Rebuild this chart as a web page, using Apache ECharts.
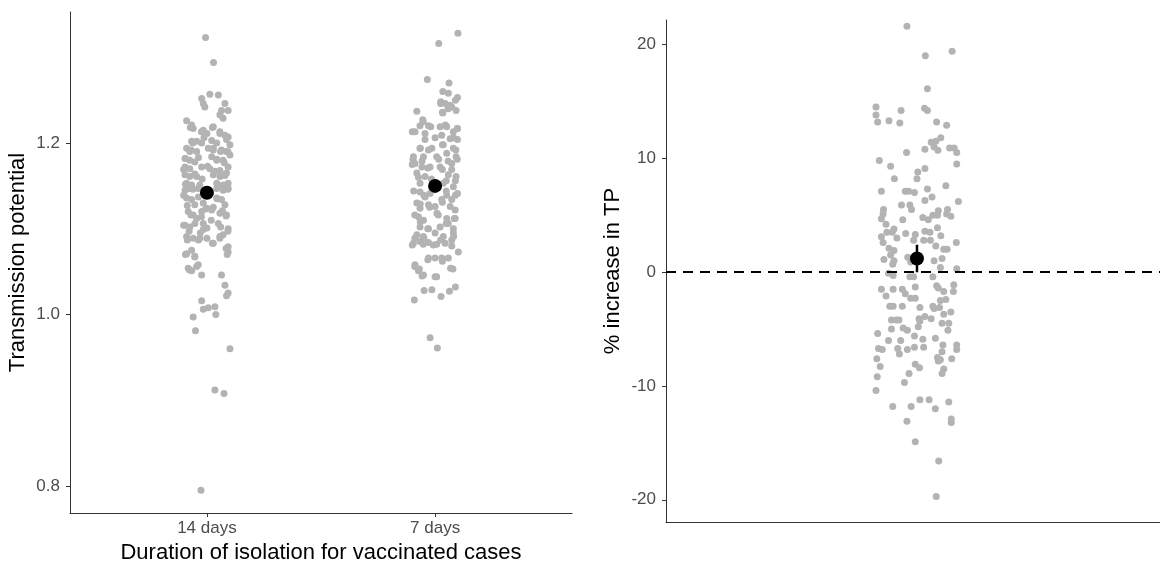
<!DOCTYPE html>
<html>
<head>
<meta charset="utf-8">
<script src="https://cdn.jsdelivr.net/npm/echarts@6/dist/echarts.min.js"></script>
<style>
  html, body { margin: 0; background: #fff; }
  #chart { width: 1160px; height: 564px; }
</style>
</head>
<body>
<div id="chart"></div>
<script>
const categories = ['14 days', '7 days'];

// each point: [transmission potential, horizontal jitter]
const tp14 = [
  [1.323,-0.006],[1.294,0.029],
  [1.252,-0.023],[1.246,-0.016],[1.242,-0.009],[1.257,0.013],[1.256,0.050],[1.246,0.079],[1.238,0.093],[1.238,0.064],
  [1.233,0.057],[1.229,0.071],[1.226,-0.089],[1.221,-0.067],[1.217,-0.060],[1.215,-0.016],[1.211,0.000],[1.219,0.028],
  [1.213,0.057],[1.209,0.079],[1.207,0.093],[1.202,-0.067],[1.202,-0.045],[1.200,-0.023],[1.203,0.021],[1.200,0.043],
  [1.198,0.101],[1.194,-0.089],[1.190,-0.075],[1.190,-0.045],[1.194,0.006],[1.192,0.028],[1.192,0.064],[1.190,0.086],
  [1.186,0.101],[1.182,-0.096],[1.180,-0.075],[1.178,-0.053],[1.184,0.021],[1.180,0.043],[1.180,0.071],[1.172,-0.096],
  [1.170,-0.075],[1.172,-0.023],[1.170,0.013],[1.168,0.057],[1.172,0.093],[1.163,-0.096],[1.161,-0.075],[1.161,-0.045],
  [1.163,0.028],[1.161,0.057],[1.165,0.086],[1.153,-0.089],[1.151,-0.067],[1.151,-0.031],[1.153,0.043],[1.151,0.071],
  [1.153,0.093],
  [1.145,-0.096],[1.147,-0.075],[1.147,-0.038],[1.147,0.043],[1.145,0.071],[1.147,0.093],[1.136,-0.089],[1.134,-0.067],
  [1.128,-0.053],[1.136,0.043],[1.134,0.064],[1.128,0.079],[1.130,-0.016],[1.124,0.000],[1.120,-0.023],[1.122,0.021],
  [1.120,-0.082],[1.116,-0.060],[1.112,-0.045],[1.118,0.057],[1.116,0.086],[1.104,-0.096],[1.102,-0.075],[1.106,-0.016],
  [1.099,-0.016],[1.101,0.000],[1.106,0.050],[1.100,0.093],[1.091,-0.089],[1.089,-0.060],[1.089,-0.031],[1.089,0.000],
  [1.083,0.028],[1.091,0.057],[1.093,0.071],[1.079,0.093],[1.073,0.093],[1.071,-0.089],[1.075,-0.067],[1.067,-0.053],
  [1.054,-0.082],[1.058,-0.038],[1.046,-0.023],[1.046,0.064],[1.034,0.079],[1.025,0.093],
  [1.051,-0.067],[1.022,0.086],[1.016,-0.023],[1.006,-0.016],[1.008,0.006],[1.009,0.035],[1.000,0.039],[0.997,-0.060],
  [0.981,-0.050],[0.960,0.101],[0.912,0.035],[0.908,0.075],[0.795,-0.026],
  [1.218,-0.073],[1.213,-0.024],[1.218,0.024],[1.211,0.057],[1.204,0.086],[1.200,-0.062],[1.206,-0.013],[1.194,0.028],
  [1.190,0.060],[1.190,0.092],[1.182,-0.094],[1.192,-0.070],[1.183,-0.037],[1.173,0.003],[1.181,0.044],[1.177,0.076],
  [1.169,-0.102],[1.164,-0.053],[1.158,-0.021],[1.167,0.036],[1.162,0.079],[1.152,-0.094],[1.146,-0.062],[1.150,0.060],
  [1.146,0.092],[1.139,-0.102],[1.137,-0.037],[1.135,0.044],[1.127,-0.086],[1.123,-0.005],[1.125,0.028],[1.121,0.068],
  [1.116,-0.070],[1.114,-0.024],[1.115,0.084],[1.104,-0.102],[1.106,-0.053],[1.110,0.019],[1.102,0.060],[1.097,-0.078],
  [1.095,-0.029],[1.097,0.092],[1.087,-0.086],[1.087,-0.037],[1.083,0.024],[1.089,0.057],[1.070,-0.094],[1.068,-0.053],
  [1.077,0.084],[1.070,0.089],[1.052,-0.076],[1.056,-0.045]
];

const tp7 = [
  [1.328,0.100],[1.316,0.016],[1.274,-0.034],[1.270,0.061],[1.260,0.034],[1.258,0.058],[1.253,0.098],[1.248,0.025],
  [1.246,0.044],[1.242,0.073],[1.238,0.092],[1.237,-0.080],[1.235,0.034],[1.227,-0.054],[1.220,-0.066],[1.220,-0.029],
  [1.219,0.022],[1.219,0.051],[1.217,0.098],[1.213,-0.088],[1.211,-0.044],[1.213,0.080],[1.209,0.029],[1.205,0.066],
  [1.204,0.098],[1.204,-0.044],[1.194,-0.066],[1.194,-0.014],[1.198,0.036],[1.194,0.080],[1.184,-0.095],[1.184,-0.051],
  [1.184,0.007],[1.188,0.051],[1.184,0.092],[1.176,-0.088],[1.172,-0.058],[1.172,-0.022],[1.172,0.022],[1.176,0.073],
  [1.165,-0.080],[1.161,-0.044],[1.163,0.058],[1.161,0.092],[1.153,-0.066],[1.153,0.036],[1.149,0.080],[1.141,0.098],
  [1.143,-0.066],[1.137,-0.044],[1.141,-0.022],[1.139,0.051],[1.134,0.029],[1.134,0.073],[1.130,-0.080],[1.124,-0.066],
  [1.128,-0.029],[1.126,0.000],[1.126,0.066],[1.122,0.088],[1.114,-0.073],[1.110,-0.051],[1.116,0.014],[1.112,0.051],
  [1.112,0.088],[1.102,-0.066],[1.100,-0.029],[1.102,0.022],[1.106,0.058],[1.100,0.080],[1.093,-0.080],[1.091,-0.051],
  [1.095,0.000],[1.091,0.036],[1.095,0.080],[1.083,-0.095],[1.085,-0.066],[1.084,-0.029],[1.082,0.007],[1.083,0.044],
  [1.087,0.073],[1.073,0.102],[1.066,-0.029],[1.066,0.000],[1.066,0.029],[1.066,0.058],[1.053,0.078],[1.058,-0.088],
  [1.053,-0.069],[1.046,-0.051],[1.044,0.007],[1.029,-0.014],[1.028,-0.048],[1.017,-0.091],[1.021,0.026],[1.027,0.063],
  [1.032,0.089],[0.973,-0.022],[0.961,0.010],
  [1.246,0.024],[1.244,0.065],[1.250,0.089],[1.236,0.032],[1.240,0.057],[1.225,-0.052],[1.219,-0.019],[1.213,-0.100],
  [1.221,0.045],[1.217,0.097],[1.206,0.081],[1.206,0.000],[1.198,0.032],[1.194,-0.065],[1.192,-0.029],[1.192,0.091],
  [1.181,-0.097],[1.179,-0.057],[1.181,0.016],[1.179,0.057],[1.181,0.097],[1.175,-0.100],[1.171,-0.032],[1.169,0.032],
  [1.169,0.073],[1.160,-0.073],[1.158,-0.016],[1.156,0.049],[1.156,0.089],[1.144,-0.094],[1.139,-0.049],[1.144,0.049],
  [1.139,0.089],[1.129,-0.065],[1.125,-0.024],[1.131,0.032],[1.116,-0.089],[1.118,0.008],[1.112,0.084],[1.108,-0.065],
  [1.106,0.049],[1.100,-0.032],[1.089,-0.089],[1.089,-0.049],[1.087,0.024],[1.091,0.081],[1.081,-0.100],[1.082,-0.052],
  [1.081,-0.008],[1.080,0.073],[1.064,-0.032],[1.062,0.032],[1.054,0.068],[1.056,-0.089],[1.051,-0.073],[1.045,-0.057],
  [1.044,0.000]
];

const tpMeans = [1.142, 1.150];

// each point: [% increase in TP, horizontal jitter]
const increase = [
  [21.6,-0.024],[19.0,0.020],[19.4,0.084],[16.1,0.025],[14.5,-0.098],[13.8,-0.098],[13.2,-0.094],[13.3,-0.067],
  [13.1,-0.041],[14.2,-0.038],[14.4,0.018],[14.2,0.025],[13.2,0.047],[12.9,0.071],[11.8,0.057],[11.5,0.045],
  [11.4,0.034],[10.8,0.019],[10.7,0.050],[11.0,0.041],[10.9,0.078],[10.9,0.089],[10.5,0.095],[10.5,-0.025],
  [9.5,0.095],[9.8,-0.090],[9.3,-0.063],[9.1,0.019],[8.8,0.002],[8.2,0.000],[8.2,-0.054],[7.6,0.069],
  [7.1,-0.085],[7.1,-0.028],[7.1,-0.020],[7.0,-0.006],[7.3,0.025],[6.6,0.036],[6.3,0.019],[6.2,0.099],
  [5.9,-0.037],[5.9,-0.017],[5.5,-0.013],[5.5,-0.080],[5.1,-0.081],[4.7,-0.085],[4.6,-0.034],[4.8,0.014],
  [4.6,0.027],[5.0,0.038],[5.4,0.051],[5.0,0.049],[5.5,0.073],[5.1,0.071],[4.9,0.081],[4.2,-0.074],
  [3.8,-0.055],[3.5,-0.059],[3.5,-0.072],[3.1,-0.085],[3.0,-0.048],[3.4,-0.027],[3.3,-0.004],[3.6,0.019],
  [3.5,0.031],[3.9,0.049],[3.2,0.057],[2.6,-0.081],[2.8,-0.008],[2.8,0.016],[2.8,0.032],[2.3,0.045],
  [2.0,0.064],[2.0,0.072],[2.6,0.094],[2.1,-0.067],[1.9,-0.055],[1.5,-0.063],[1.1,-0.079],[1.0,-0.055],
  [0.7,-0.058],[1.3,-0.022],[0.9,-0.015],[1.0,0.041],[1.2,0.060],[0.4,0.056],[0.3,0.095],[-0.1,-0.068],
  [-0.3,-0.057],[-0.4,-0.008],[-0.4,-0.017],[-0.4,0.038],[-1.1,0.088],[-1.7,0.087],[-1.7,0.064],[-1.2,0.047],
  [-1.4,0.051],[-1.5,-0.085],[-1.5,-0.057],[-2.1,-0.074],[-1.3,-0.004],[-1.5,-0.035],[-1.9,-0.028],[-2.3,-0.015],
  [-2.3,-0.004],[-2.4,0.069],[-2.5,0.056],[-3.0,-0.065],[-3.0,-0.057],[-3.0,-0.035],[-3.1,0.007],[-3.0,0.038],
  [-3.2,0.041],[-3.1,0.054],[-3.5,0.081],[-3.7,0.064],[-4.2,-0.061],[-4.2,-0.049],[-4.2,-0.043],[-4.1,0.005],
  [-3.9,0.019],[-4.1,0.034],[-4.3,0.007],[-4.9,-0.033],[-5.0,-0.061],[-5.1,-0.023],[-4.8,0.003],[-4.5,0.060],
  [-4.5,0.076],[-5.1,0.074],[-5.4,-0.094],[-5.6,-0.006],[-5.8,0.044],[-6.0,-0.068],[-6.0,-0.039],[-5.9,0.014],
  [-6.4,0.062],[-6.4,0.095],[-6.8,0.095],[-6.7,-0.092],[-6.8,-0.083],[-6.7,-0.046],[-6.8,-0.023],[-6.6,-0.006],
  [-6.6,0.016],[-7.0,0.060],[-7.2,-0.042],[-7.6,-0.096],[-8.3,-0.088],[-7.5,0.049],[-7.7,0.056],[-7.8,0.051],
  [-7.6,0.083],[-8.1,-0.004],[-8.4,0.006],[-8.5,0.064],[-8.9,0.060],[-8.9,-0.019],[-9.2,-0.095],[-9.7,-0.030],
  [-10.4,-0.098],[-11.8,-0.058],[-11.8,-0.014],[-11.2,0.007],[-11.2,0.029],[-12.0,0.044],[-11.4,0.076],[-12.9,0.082],
  [-13.2,0.082],[-13.1,-0.024],[-14.9,-0.004],[-16.6,0.052],[-19.7,0.046]
];

const increaseMean = 1.2;
const increaseCI = [0.0, 2.4];

const tpTicks = [0.8, 1.0, 1.2];
const increaseTicks = [-20, -10, 0, 10, 20];

const FONT = 'Liberation Sans, Arial, sans-serif';
const GREY = '#B3B3B3';

// jittered points sit around their category position (1, 2, ...)
const jitter = (rows, pos) => rows.map(([v, dx]) => [pos + dx, v]);

const axisBase = {
  axisLine: { show: true, onZero: false, lineStyle: { color: '#333', width: 1 } },
  axisTick: { show: true, length: 4, lineStyle: { color: '#333' } },
  axisLabel: { color: '#4D4D4D', fontSize: 17, fontFamily: FONT, margin: 10 },
  splitLine: { show: false },
  nameTextStyle: { color: '#000', fontSize: 22, fontFamily: FONT },
  nameLocation: 'middle'
};

const dot = (color) => ({ color, opacity: 1 });

const chart = echarts.init(document.getElementById('chart'));

chart.setOption({
  animation: false,
  grid: [
    { left: 70, top: 12, width: 502, height: 501, outerBoundsMode: 'none' },
    { left: 666, top: 20, right: 0, height: 502, outerBoundsMode: 'none' }
  ],
  xAxis: [
    {
      ...axisBase,
      gridIndex: 0, type: 'value', min: 0.4, max: 2.6,
      axisTick: { ...axisBase.axisTick, customValues: [1, 2] },
      axisLabel: {
        ...axisBase.axisLabel,
        margin: 7,
        customValues: [1, 2],
        formatter: v => categories[Math.round(v) - 1]
      },
      name: 'Duration of isolation for vaccinated cases',
      nameGap: 29
    },
    {
      // panel is cut at the right edge of the picture
      ...axisBase,
      gridIndex: 1, type: 'value', min: 0.4, max: 1.581,
      axisTick: { show: false },
      axisLabel: { show: false }
    }
  ],
  yAxis: [
    {
      ...axisBase,
      gridIndex: 0, type: 'value', min: 0.7685, max: 1.3528,
      axisTick: { ...axisBase.axisTick, customValues: tpTicks },
      axisLabel: { ...axisBase.axisLabel, customValues: tpTicks, formatter: v => v.toFixed(1) },
      name: 'Transmission potential',
      nameGap: 41
    },
    {
      ...axisBase,
      gridIndex: 1, type: 'value', min: -21.95, max: 22.15,
      axisTick: { ...axisBase.axisTick, customValues: increaseTicks },
      axisLabel: { ...axisBase.axisLabel, customValues: increaseTicks },
      name: '% increase in TP',
      nameGap: 42
    }
  ],
  series: [
    {
      type: 'scatter', xAxisIndex: 0, yAxisIndex: 0,
      data: jitter(tp14, 1), symbolSize: 7,
      itemStyle: dot(GREY), silent: true
    },
    {
      type: 'scatter', xAxisIndex: 0, yAxisIndex: 0,
      data: jitter(tp7, 2), symbolSize: 7,
      itemStyle: dot(GREY), silent: true
    },
    {
      type: 'scatter', xAxisIndex: 0, yAxisIndex: 0, z: 5,
      data: tpMeans.map((m, i) => [i + 1, m]), symbolSize: 14,
      itemStyle: dot('#000'), silent: true
    },
    {
      type: 'scatter', xAxisIndex: 1, yAxisIndex: 1,
      data: jitter(increase, 1), symbolSize: 7,
      itemStyle: dot(GREY), silent: true,
      markLine: {
        silent: true, symbol: 'none', animation: false,
        label: { show: false },
        lineStyle: { color: '#000', width: 2, type: [10, 7] },
        data: [{ yAxis: 0 }]
      }
    },
    {
      // error bar
      type: 'line', xAxisIndex: 1, yAxisIndex: 1, z: 4,
      data: increaseCI.map(v => [1, v]), symbol: 'none',
      lineStyle: { color: '#000', width: 2.5 }, silent: true
    },
    {
      type: 'scatter', xAxisIndex: 1, yAxisIndex: 1, z: 5,
      data: [[1, increaseMean]], symbolSize: 14,
      itemStyle: dot('#000'), silent: true
    }
  ]
});
</script>
</body>
</html>
